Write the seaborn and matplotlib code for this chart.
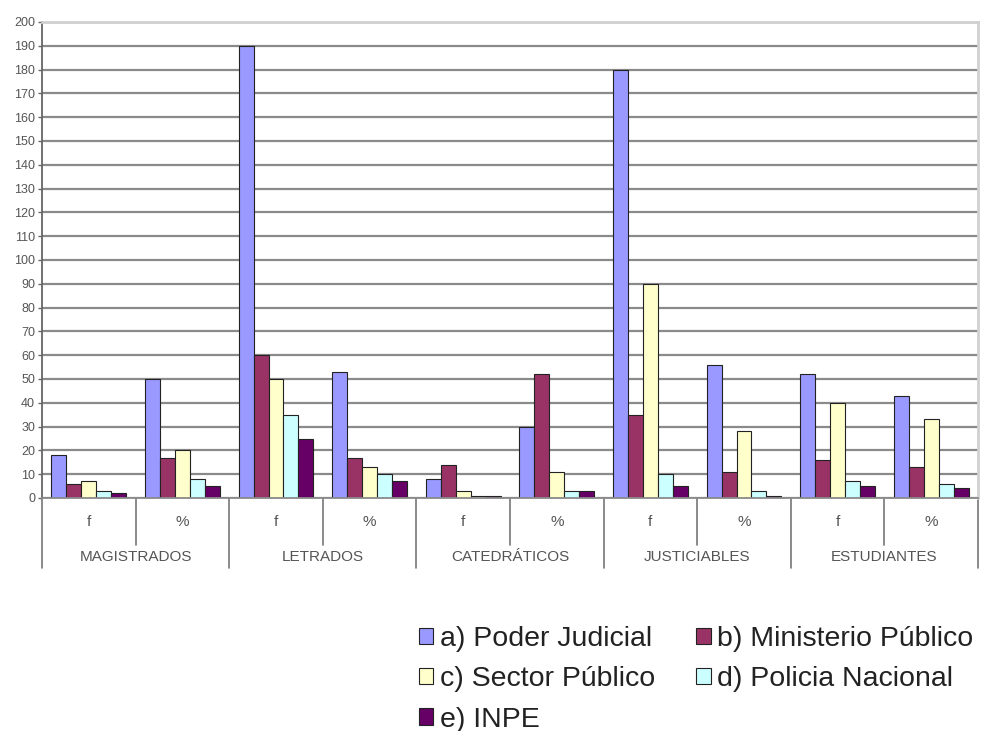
import pandas as pd
import seaborn as sns
import matplotlib.pyplot as plt
import matplotlib.transforms as mtransforms

# Data
categorias = ['MAGISTRADOS', 'LETRADOS', 'CATEDRÁTICOS', 'JUSTICIABLES', 'ESTUDIANTES']
subniveles = ['f', '%']
series = ['a) Poder Judicial', 'b) Ministerio Público', 'c) Sector Público',
          'd) Policia Nacional', 'e) INPE']
colores = ['#9999FF', '#993366', '#FFFFCC', '#CCFFFF', '#660066']

poder_judicial = [18, 50, 190, 53, 8, 30, 180, 56, 52, 43]
ministerio_publico = [6, 17, 60, 17, 14, 52, 35, 11, 16, 13]
sector_publico = [7, 20, 50, 13, 3, 11, 90, 28, 40, 33]
policia_nacional = [3, 8, 35, 10, 1, 3, 10, 3, 7, 6]
inpe = [2, 5, 25, 7, 1, 3, 5, 1, 5, 4]

posiciones = [f'{c} {s}' for c in categorias for s in subniveles]
valores = [poder_judicial, ministerio_publico, sector_publico, policia_nacional, inpe]

rows = []
for serie, vals in zip(series, valores):
    for pos, v in zip(posiciones, vals):
        rows.append({'pos': pos, 'serie': serie, 'valor': v})
df = pd.DataFrame(rows)

sns.set_style('white')
plt.rcParams['font.family'] = ['Liberation Sans', 'DejaVu Sans']

fig = plt.figure(figsize=(9.83, 7.31), dpi=100)
ax = fig.add_axes([42 / 983, 1 - 498 / 731, (978 - 42) / 983, (498 - 22) / 731])

sns.barplot(data=df, x='pos', y='valor', hue='serie', order=posiciones,
            hue_order=series, palette=colores, saturation=1,
            edgecolor='#222222', linewidth=0.8, width=0.8, ax=ax)

ax.set_ylim(0, 200)
ax.set_xlim(-0.5, len(posiciones) - 0.5)
ax.set_yticks(range(0, 201, 10))
ax.tick_params(axis='y', labelsize=9, labelcolor='#555555', length=3,
               width=1, color='#666666', pad=2, direction='out', left=True)
ax.set_xticks([])
ax.set_xlabel('')
ax.set_ylabel('')
ax.set_axisbelow(True)
ax.yaxis.grid(True, color='#8a8a8a', linewidth=1.6)

for side in ['top', 'right']:
    ax.spines[side].set_color('#d0d0d0')
    ax.spines[side].set_linewidth(2)
ax.spines['left'].set_color('#666666')
ax.spines['left'].set_linewidth(1.3)
ax.spines['bottom'].set_color('#8a8a8a')
ax.spines['bottom'].set_linewidth(1.3)

# multi-level category axis
trans = mtransforms.blended_transform_factory(ax.transData, ax.transAxes)
y_sub = -(522 - 498) / 476
y_cat = -(557 - 498) / 476
y_short = -(545 - 498) / 476
y_long = -(568 - 498) / 476
for i, pos in enumerate(posiciones):
    ax.text(i, y_sub, pos.split(' ')[-1], transform=trans, ha='center',
            va='center', fontsize=11, color='#555555')
for j, cat in enumerate(categorias):
    ax.text(2 * j + 0.5, y_cat, cat, transform=trans, ha='center',
            va='center', fontsize=11, color='#555555')
for k in range(len(posiciones) + 1):
    x = k - 0.5
    y_end = y_long if k % 2 == 0 else y_short
    ax.plot([x, x], [0, y_end], transform=trans, color='#777777',
            linewidth=1.2, clip_on=False)

# legend in row order
handles, labels = ax.get_legend_handles_labels()
ax.get_legend().remove()
orden = [0, 2, 4, 1, 3]
fig.legend([handles[i] for i in orden], [labels[i] for i in orden],
           loc='upper left', bbox_to_anchor=(405 / 983, 1 - 612 / 731),
           ncol=2, frameon=False, fontsize=20.5, handlelength=0.5,
           handleheight=0.5, handletextpad=0.22, labelspacing=0.5,
           columnspacing=1.45, borderpad=0, labelcolor='#222222')

fig.savefig('out.png', dpi=100)
